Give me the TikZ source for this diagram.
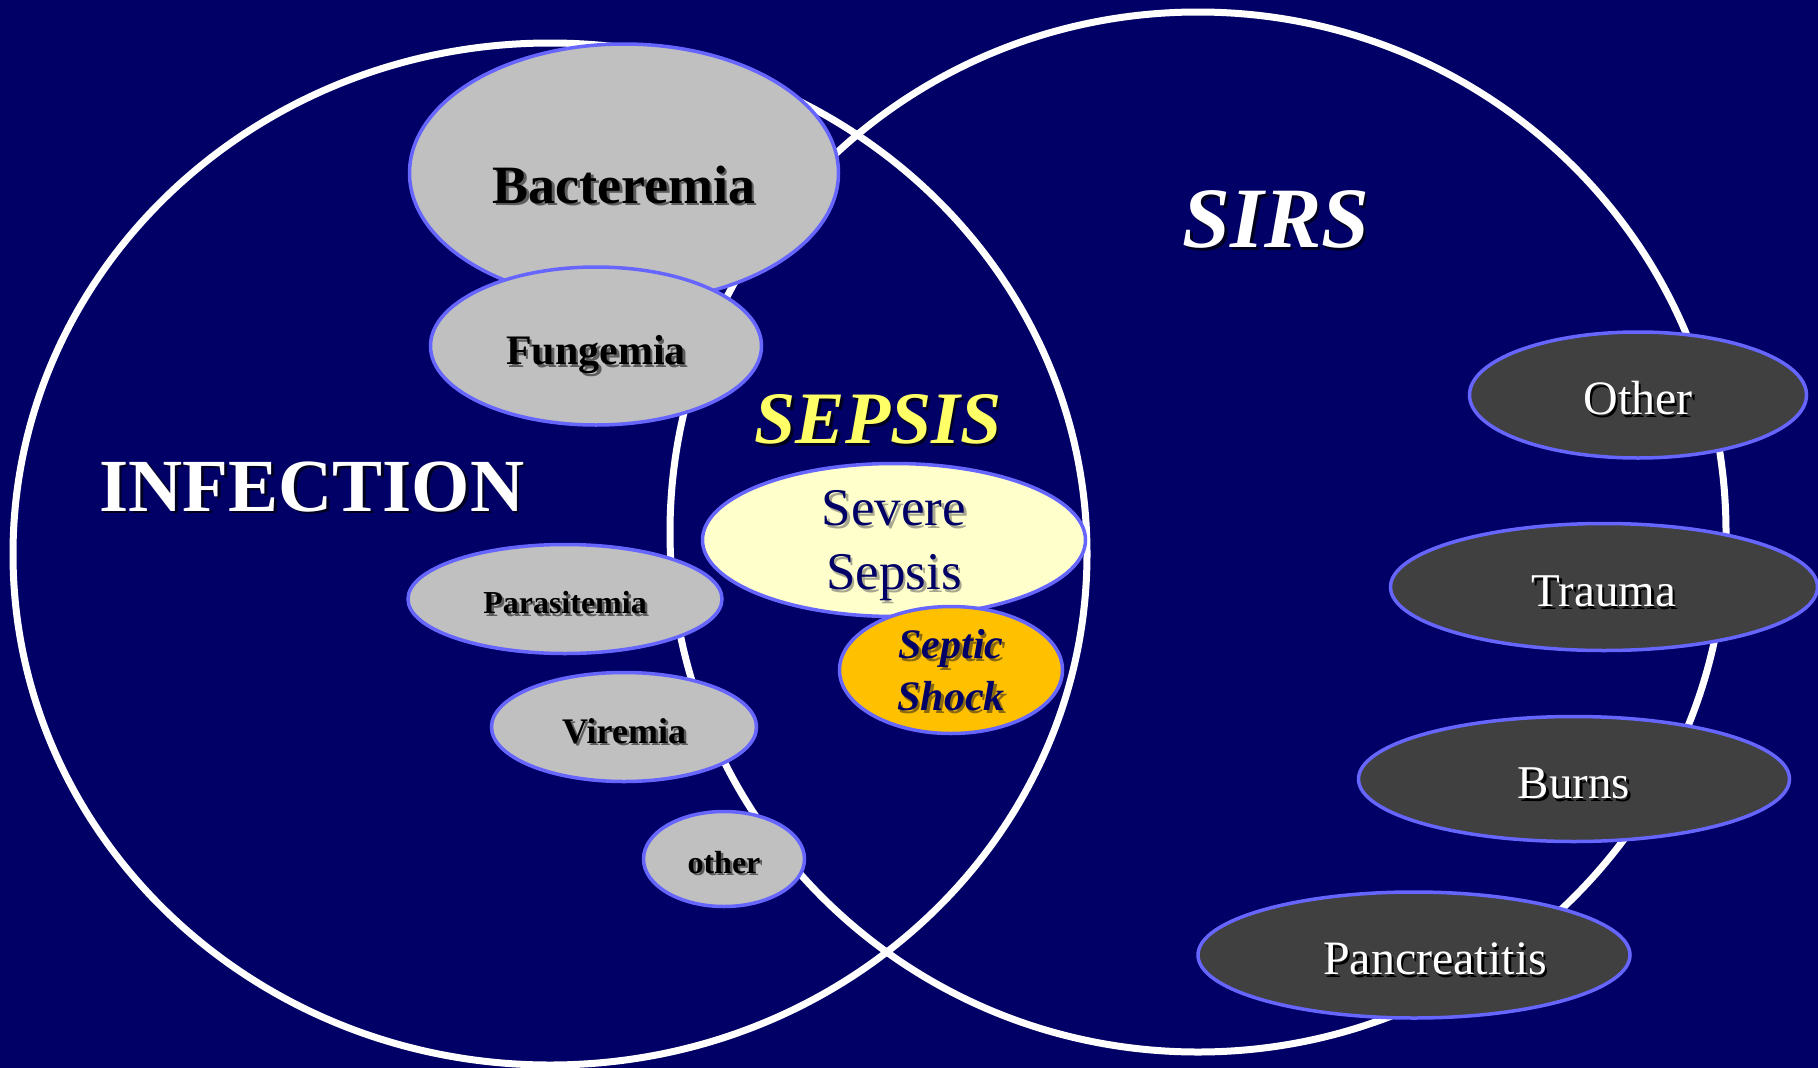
\documentclass[tikz,border=0pt]{standalone}
\usepackage{fontspec}
\setmainfont{Liberation Serif}
\usetikzlibrary{shapes.geometric}
\definecolor{bgnavy}{HTML}{000066}
\definecolor{rim}{HTML}{6666FF}
\definecolor{lgray}{HTML}{C0C0C0}
\definecolor{dgray}{HTML}{404040}
\definecolor{pale}{HTML}{FFFFCC}
\definecolor{amber}{HTML}{FFC000}
\definecolor{sepsisyel}{HTML}{FFFF66}
\definecolor{shnavy}{HTML}{000020}
\definecolor{shgray}{HTML}{5C5C5C}
\definecolor{shpale}{HTML}{A8A890}
\definecolor{shamber}{HTML}{8A6A10}
\newcommand\fs[2]{\fontsize{#1pt}{#2pt}\selectfont}
\newcommand\shd[2][shnavy]{\leavevmode\rlap{\kern2.5pt\raisebox{-2.5pt}{\textcolor{#1}{#2}}}#2}
\begin{document}
\begin{tikzpicture}[x=1pt, y=-1pt,
    venn/.style={draw=white, line width=7pt},
    blob/.style={ellipse, draw=rim, line width=3.5pt, inner sep=0pt, align=center, text depth=0pt},
    infnode/.style={blob, fill=lgray, text=black, font=\fs{#1}{#1}\bfseries},
    sirsnode/.style={blob, fill=dgray, text=white, font=\fs{#1}{#1}, text height=39pt},
    bigword/.style={inner sep=0pt, text=white}]
  \fill[bgnavy] (0,0) rectangle (1818,1068);
  \useasboundingbox (0,0) rectangle (1818,1068);
  % the two sets
  \draw[venn] (550,554) ellipse [x radius=537pt, y radius=511pt];
  \draw[venn] (1198,532) ellipse [x radius=528pt, y radius=520pt];
  \node[bigword, font=\fs{75}{75}\bfseries] (infection) at (312,488) {\shd{INFECTION}};
  \node[bigword, font=\fs{86}{86}\bfseries\itshape] (sirs) at (1276,221) {\shd{SIRS}};
  \node[bigword, text=sepsisyel, font=\fs{74}{74}\bfseries\itshape] (sepsis) at (878,421) {\shd{SEPSIS}};
  % infections
  \node[infnode=54, minimum width=429pt, minimum height=258pt, text height=60pt] (bacteremia) at (624,173) {\shd[shgray]{Bacteremia}};
  \node[infnode=42, minimum width=331pt, minimum height=158pt, text height=37pt] (fungemia) at (596,346) {\shd[shgray]{Fungemia}};
  \node[infnode=32, minimum width=314pt, minimum height=109pt, text height=29pt] (parasitemia) at (565,599) {\shd[shgray]{Parasitemia}};
  \node[infnode=36, minimum width=265pt, minimum height=109pt, text height=32pt] (viremia) at (624,727) {\shd[shgray]{Viremia}};
  \node[infnode=32, minimum width=161pt, minimum height=95pt, text height=28pt] (otherinf) at (724,859) {\shd[shgray]{other}};
  % sepsis
  \node[blob, fill=pale, text=bgnavy, font=\fs{53}{64}, minimum width=383pt, minimum height=153pt] (severe) at (894,540) {\shd[shpale]{Severe}\\\shd[shpale]{Sepsis}};
  \node[blob, fill=amber, text=bgnavy, font=\fs{42}{52}\bfseries\itshape, minimum width=223pt, minimum height=127pt] (shock) at (951,670) {\shd[shamber]{Septic}\\\shd[shamber]{Shock}};
  % other causes of SIRS
  \node[sirsnode=48, minimum width=337pt, minimum height=126pt] (othersirs) at (1638,395) {\shd[black]{Other}};
  \node[sirsnode=47, minimum width=427pt, minimum height=127pt] (trauma) at (1604,587) {\shd[black]{Trauma}};
  \node[sirsnode=47, minimum width=431pt, minimum height=125pt] (burns) at (1574,779) {\shd[black]{Burns}};
  \node[sirsnode=48, minimum width=432pt, minimum height=126pt] (pancreatitis) at (1414,955) {\hspace*{42pt}\shd[black]{Pancreatitis}};
\end{tikzpicture}
\end{document}
